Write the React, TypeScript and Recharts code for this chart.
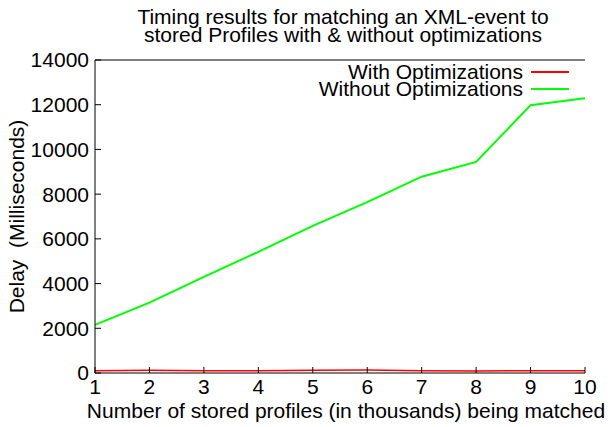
import { Line, LineChart, ReferenceLine, XAxis, YAxis } from 'recharts'

const profiles = [1, 2, 3, 4, 5, 6, 7, 8, 9, 10]
const withOpt = [100, 120, 100, 100, 120, 130, 100, 90, 100, 100]
const withoutOpt = [2150, 3150, 4300, 5420, 6580, 7640, 8780, 9440, 11980, 12290]
const yTicks = [0, 2000, 4000, 6000, 8000, 10000, 12000, 14000]

const series = [
  { key: 'withOpt', name: 'With Optimizations', color: '#ff0000', width: 1.5 },
  { key: 'withoutOpt', name: 'Without Optimizations', color: '#00ff00', width: 2 },
]

const data = profiles.map((x, i) => ({ x, withOpt: withOpt[i], withoutOpt: withoutOpt[i] }))

const FONT = '"Liberation Sans", Arial, sans-serif'

export default function App() {
  return (
    <div style={{ position: 'relative', width: 611, height: 427, background: '#fff', fontFamily: FONT }}>
      <style>{'body{margin:0}'}</style>
      <div
        style={{
          position: 'absolute',
          left: 100,
          width: 486,
          top: 8,
          textAlign: 'center',
          fontSize: 21,
          lineHeight: '18px',
          color: '#000',
        }}
      >
        Timing results for matching an XML-event to
        <br />
        stored Profiles with &amp; without optimizations
      </div>
      <LineChart width={611} height={427} data={data} margin={{ top: 60, right: 26, bottom: 0, left: 20 }}>
        <XAxis
          dataKey="x"
          type="number"
          domain={[1, 10]}
          ticks={profiles}
          height={54}
          stroke="#000"
          tickSize={-6}
          tickMargin={12}
          tick={{ fill: '#000', fontSize: 21, fontFamily: FONT }}
          label={{
            value: 'Number of stored profiles (in thousands) being matched',
            position: 'insideBottom',
            dx: 6,
            dy: -4,
            style: { fill: '#000', fontSize: 21, fontFamily: FONT, textAnchor: 'middle' },
          }}
        />
        <XAxis
          xAxisId="top"
          orientation="top"
          dataKey="x"
          type="number"
          domain={[1, 10]}
          ticks={profiles}
          height={0}
          stroke="#000"
          tickSize={-6}
          tick={false}
        />
        <YAxis
          type="number"
          domain={[0, 14000]}
          ticks={yTicks}
          width={75}
          stroke="#000"
          tickSize={-6}
          tickMargin={12}
          tick={{ fill: '#000', fontSize: 21, fontFamily: FONT }}
          label={{
            value: 'Delay\u00a0\u00a0(Milliseconds)',
            angle: -90,
            position: 'insideLeft',
            dx: -8,
            dy: 0,
            style: { fill: '#000', fontSize: 21, fontFamily: FONT, textAnchor: 'middle' },
          }}
        />
        <YAxis
          yAxisId="right"
          orientation="right"
          type="number"
          domain={[0, 14000]}
          ticks={yTicks}
          width={0}
          stroke="#000"
          tickSize={-6}
          tick={false}
        />
        <ReferenceLine y={14000} stroke="#000" />
        {series.map((s) => (
          <Line
            key={s.key}
            name={s.name}
            dataKey={s.key}
            stroke={s.color}
            strokeWidth={s.width}
            dot={false}
            isAnimationActive={false}
          />
        ))}
      </LineChart>
      <div
        style={{
          position: 'absolute',
          top: 63,
          right: 42,
          fontSize: 21,
          lineHeight: '17px',
          color: '#000',
        }}
      >
        {series.map((s) => (
          <div key={s.key} style={{ display: 'flex', alignItems: 'center', justifyContent: 'flex-end' }}>
            <span>{s.name}</span>
            <span style={{ display: 'inline-block', width: 38, height: 2, background: s.color, marginLeft: 8 }} />
          </div>
        ))}
      </div>
    </div>
  )
}
